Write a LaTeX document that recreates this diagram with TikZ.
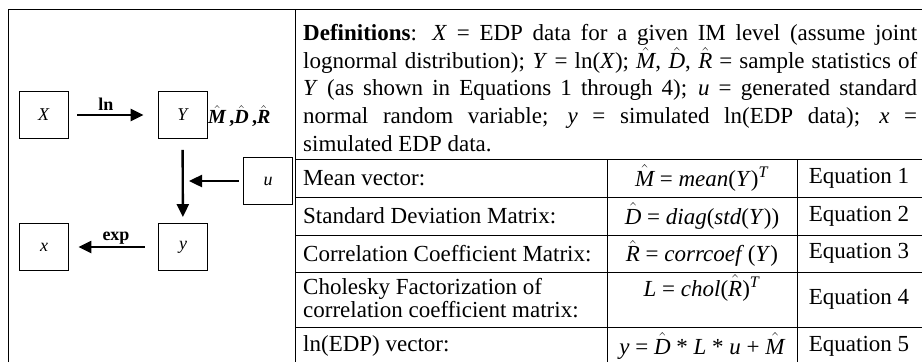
\RequirePackage{fix-cm}
\documentclass[tikz,border=0pt]{standalone}
\usepackage{fontspec}
\setmainfont{Liberation Serif}
\usetikzlibrary{arrows.meta}
\newcommand{\hv}[1]{\ensuremath{\hat{\mbox{\itshape #1}}}}
\begin{document}
\begin{tikzpicture}[x=1pt,y=-1pt,
  box/.style={draw, line width=0.9pt, minimum width=49pt, minimum height=47pt, inner sep=0pt, font=\fontsize{18}{18}\selectfont\itshape},
  flow/.style={line width=2.4pt, -{Triangle[length=13pt,width=12pt]}},
  rule/.style={line width=1pt},
  tx/.style={font=\fontsize{23}{21}\selectfont, inner sep=0pt},
  lab/.style={font=\fontsize{18}{20}\selectfont\bfseries, inner sep=0pt}
]
\useasboundingbox (0,0) rectangle (922,362);
% frame and table rules
\draw[rule] (8,362) -- (8,9) -- (922,9);
\draw[rule] (295,9) -- (295,362);
\foreach \yy in {159,197,235,272,327} \draw[rule] (295,\yy) -- (922,\yy);
\draw[rule] (607,159) -- (607,362);
\draw[rule] (797,159) -- (797,362);
% left flow diagram
\node[box] (X) at (43.5,115) {X};
\node[box] (Y) at (182.5,115) {Y};
\node[box] (u) at (268,181) {u};
\node[box] (y) at (183,247) {y};
\node[box] (x) at (44,247) {x};
\node[anchor=west, inner sep=0pt, font=\fontsize{20}{20}\selectfont\bfseries] (stats) at (208,116) {\hv{M}\,,\hv{D}\,,\hv{R}};
\draw[flow, shorten <=9pt, shorten >=14pt] (X) -- (Y);
\node[lab] (lnlab) at (106,104) {ln};
\draw[flow, shorten <=11pt, shorten >=6pt] (Y) -- (y);
\draw[flow, shorten <=4.5pt, shorten >=6.5pt] (u.west) -- (u.west -| Y.center);
\draw[flow, shorten <=13.5pt, shorten >=9.5pt] (y) -- (x);
\node[lab] (explab) at (116,238) {exp};
% definitions
\node[anchor=north west, inner sep=0pt, text width=614pt, align=justify, font=\fontsize{23}{27.8}\selectfont] (defs) at (303,24)
{\textbf{Definitions}: \textit{X} = EDP data for a given IM level (assume joint\linebreak
lognormal distribution); \textit{Y} = ln(\textit{X}); \hv{M}, \hv{D}, \hv{R} = sample statistics of\linebreak
\textit{Y} (as shown in Equations 1 through 4); \textit{u} = generated standard\linebreak
normal random variable; \textit{y} = simulated ln(EDP data); \textit{x} =\linebreak
simulated EDP data.};
% table column 1
\node[tx, anchor=west] (r1) at (303,178) {Mean vector:};
\node[tx, anchor=west] (r2) at (303,216) {Standard Deviation Matrix:};
\node[tx, anchor=west] (r3) at (303,253.5) {Correlation Coefficient Matrix:};
\node[tx, anchor=west, align=left] (r4) at (303,298) {Cholesky Factorization of\\correlation coefficient matrix:};
\node[tx, anchor=west] (r5) at (303,346) {ln(EDP) vector:};
% table column 2
\node[tx] (e1) at (702,178) {\hv{M} = \textit{mean}(\textit{Y})\textsuperscript{\textit{T}}};
\node[tx] (e2) at (702,216) {\hv{D} = \textit{diag}(\textit{std}(\textit{Y}))};
\node[tx] (e3) at (702,253.5) {\hv{R} = \textit{corrcoef}\,(\textit{Y})};
\node[tx] (e4) at (702,288) {\textit{L} = \textit{chol}(\hv{R})\textsuperscript{\textit{T}}};
\node[tx] (e5) at (702,346) {\textit{y} = \hv{D} * \textit{L} * \textit{u} + \hv{M}};
% table column 3
\node[tx] (q1) at (859,178) {Equation 1};
\node[tx] (q2) at (859,216) {Equation 2};
\node[tx] (q3) at (859,253.5) {Equation 3};
\node[tx] (q4) at (859,299.5) {Equation 4};
\node[tx] (q5) at (859,346) {Equation 5};
\end{tikzpicture}
\end{document}
